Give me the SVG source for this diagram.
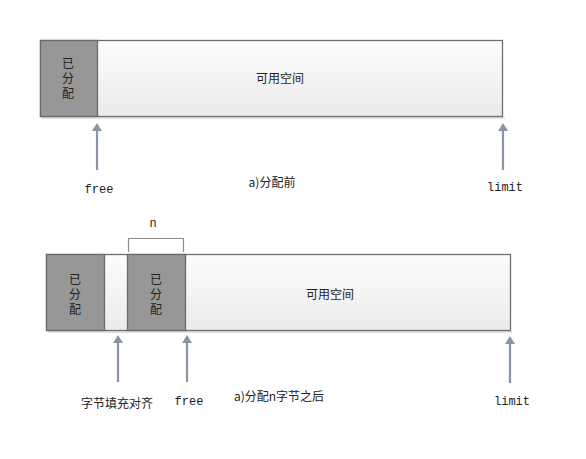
<svg xmlns="http://www.w3.org/2000/svg" width="586" height="459" viewBox="0 0 586 459">
<defs>
<linearGradient id="g" x1="0" y1="0" x2="0" y2="1">
<stop offset="0" stop-color="#fcfcfc"/><stop offset="1" stop-color="#ebebeb"/>
</linearGradient>
<marker id="ah" markerWidth="10" markerHeight="10" refX="5" refY="5" orient="auto" markerUnits="userSpaceOnUse">
<path d="M0,8 L5,0 L10,8 Z" fill="#8b93a6" transform="rotate(90 5 5)"/>
</marker>
<style>
.box{fill:url(#g);stroke:#6e6e6e;stroke-width:1.3}
.sh{fill:#e2e2e2}
.blk{fill:#979797;stroke:#6a6a6a;stroke-width:1.3}
.t{font-family:"Noto Sans CJK SC","Noto Sans",sans-serif;font-size:12px;fill:#222;text-anchor:middle;dominant-baseline:central}
.v{font-family:"Noto Sans CJK SC",sans-serif;font-size:12px;fill:#222;writing-mode:vertical-rl;text-anchor:middle;letter-spacing:3px}
.m{font-family:"Liberation Mono",monospace;font-size:12px;fill:#222;text-anchor:middle;dominant-baseline:central}
.ar{stroke:#8b93a6;stroke-width:2.2;fill:none;marker-end:url(#ah)}
.br{stroke:#8a8a8a;stroke-width:1.2;fill:none}
</style>
</defs>
<g id="before">
<rect class="sh" x="42" y="117" width="463" height="2"/>
<rect id="top-space" class="box" x="40.5" y="40.5" width="462" height="76"/>
<rect class="blk" x="40.5" y="40.5" width="57" height="76"/>
<text class="v" x="68" y="79.5">已分配</text>
<text class="t" x="280" y="77">可用空间</text>
</g>
<g id="after">
<rect class="sh" x="48" y="331" width="464" height="2"/>
<rect class="box" x="46.5" y="254.5" width="464" height="76"/>
<rect class="blk" x="46.5" y="254.5" width="58" height="76"/>
<text class="v" x="75" y="295.5">已分配</text>
<rect class="blk" x="127.5" y="254.5" width="58" height="76"/>
<text class="v" x="156" y="295.5">已分配</text>
<text class="t" x="330" y="293">可用空间</text>
<path class="br" d="M128.5,252 V238.5 H183.5 V252"/>
<text class="m" x="153" y="224">n</text>
</g>
<g id="connectors">
<line class="ar" x1="97" y1="170" x2="97" y2="128"/>
<line class="ar" x1="503" y1="170" x2="503" y2="128"/>
<line class="ar" x1="118" y1="382" x2="118" y2="340"/>
<line class="ar" x1="187" y1="382" x2="187" y2="340"/>
<line class="ar" x1="510" y1="383" x2="510" y2="341"/>
</g>
<g id="labels">
<text class="m" x="99" y="190">free</text>
<text class="t" x="272" y="181">a)分配前</text>
<text class="m" x="505" y="188">limit</text>
<text class="t" x="117" y="402">字节填充对齐</text>
<text class="m" x="189" y="402">free</text>
<text class="t" x="279" y="395">a)分配n字节之后</text>
<text class="m" x="512" y="402">limit</text>
</g>
</svg>
